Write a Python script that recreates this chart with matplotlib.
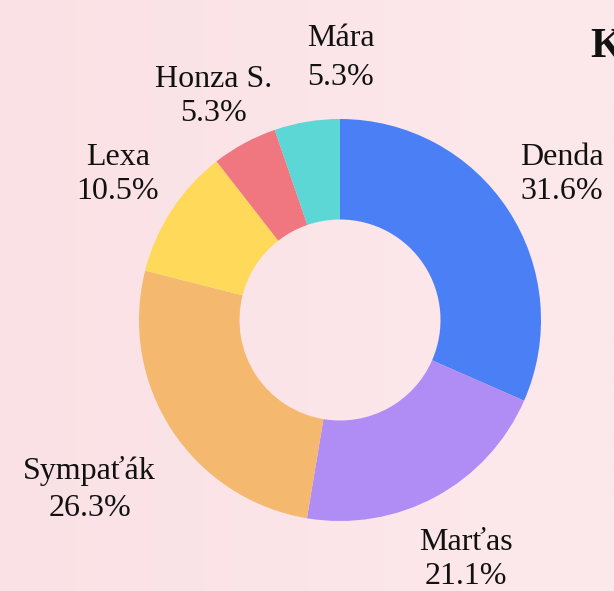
import numpy as np
import matplotlib
matplotlib.use("Agg")
import matplotlib.pyplot as plt
from matplotlib.colors import LinearSegmentedColormap

names = ["Denda", "Marťas", "Sympaťák", "Lexa", "Honza S.", "Mára"]
counts = [6, 4, 5, 2, 1, 1]
colors = ["#4a7ff5", "#b08cf5", "#f4b96e", "#ffd95a", "#f0767f", "#5dd6d6"]
title_text = "K"

W, H = 614, 591
fig = plt.figure(figsize=(W / 100, H / 100), dpi=100)

# background gradient
bg = fig.add_axes([0, 0, 1, 1], zorder=-10)
cmap = LinearSegmentedColormap.from_list("bg", ["#fae1e5", "#fde9ec"])
bg.imshow(np.linspace(0, 1, 256)[None, :], aspect="auto", cmap=cmap,
          extent=[0, 1, 0, 1])
bg.axis("off")

# axes: center (340, 320), radius ~201 px
R = 201
cx, cy = 340, 320
ax = fig.add_axes([(cx - R) / W, (H - cy - R) / H, 2 * R / W, 2 * R / H])
ax.axis("off")

wedges, _ = ax.pie(counts, colors=colors, startangle=90, counterclock=False,
                   radius=1.0, wedgeprops=dict(width=0.5, linewidth=0),
                   frame=False)
ax.set_xlim(-1, 1)
ax.set_ylim(-1, 1)
ax.set_aspect("auto")

total = sum(counts)
font = "Liberation Serif"
nudge = {"Mára": (0.22, 0.0), "Sympaťák": (-0.14, -0.12),
         "Honza S.": (0.0, -0.05), "Marťas": (0.0, -0.03)}
spacing = {"Mára": 1.45, "Sympaťák": 1.35}
for w, n, c in zip(wedges, names, counts):
    ang = np.deg2rad((w.theta1 + w.theta2) / 2)
    d = 1.32
    x, y = d * np.cos(ang), d * np.sin(ang)
    dx, dy = nudge.get(n, (0, 0))
    ax.text(x + dx, y + dy, f"{n}\n{100 * c / total:.1f}%", ha="center",
            va="center", fontsize=23, family=font, color="#111111",
            linespacing=spacing.get(n, 1.22), clip_on=False)

fig.text(590 / W, 1 - 57 / H, title_text, fontsize=30, fontweight="bold",
         family=font, color="#111111", va="baseline", ha="left")

fig.savefig("out.png", dpi=100)
